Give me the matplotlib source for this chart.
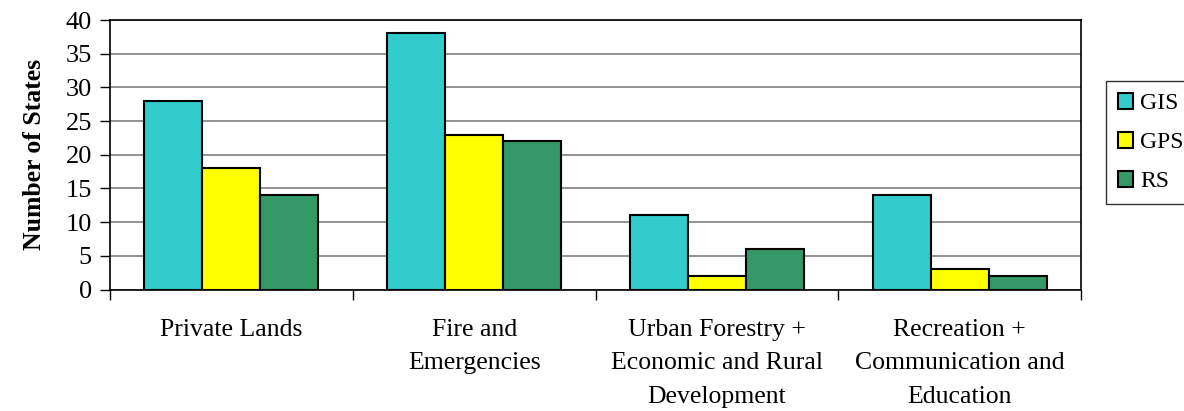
import numpy as np
import matplotlib
matplotlib.use("Agg")
import matplotlib.pyplot as plt
from matplotlib.ticker import FixedLocator

categories = ["Private Lands", "Fire and\nEmergencies",
              "Urban Forestry +\nEconomic and Rural\nDevelopment",
              "Recreation +\nCommunication and\nEducation"]
series_names = ["GIS", "GPS", "RS"]
gis = [28, 38, 11, 14]
gps = [18, 23, 2, 3]
rs = [14, 22, 6, 2]
y_ticks = [0, 5, 10, 15, 20, 25, 30, 35, 40]

colors = ["#33CCCC", "#FFFF00", "#339966"]
plt.rcParams["font.family"] = ["Liberation Serif", "DejaVu Serif"]

fig = plt.figure(figsize=(11.84, 4.11), dpi=100)
ax = fig.add_axes([110 / 1184, 1 - 289.5 / 411, (1081 - 110) / 1184, (289.5 - 20) / 411])

x = np.arange(len(categories))
width = 0.239
for i, (vals, name, c) in enumerate(zip([gis, gps, rs], series_names, colors)):
    ax.bar(x + (i - 1) * width, vals, width, color=c, edgecolor="black",
           linewidth=1.5, label=name, zorder=3)

ax.set_xlim(-0.5, len(categories) - 0.5)
ax.set_ylim(0, 40)
ax.set_yticks(y_ticks)
ax.yaxis.grid(True, color="#808080", linewidth=1.2, zorder=0)
ax.set_axisbelow(True)

ax.set_xticks(x)
ax.set_xticklabels(categories, fontsize=18.5, linespacing=1.68)
ax.xaxis.set_minor_locator(FixedLocator(np.arange(-0.5, len(categories), 1.0)))
ax.tick_params(axis="x", which="major", length=0, pad=21)
ax.tick_params(axis="x", which="minor", length=7, width=1, direction="out")
ax.tick_params(axis="y", labelsize=19, length=7, width=1, direction="out", pad=6)

for s in ax.spines.values():
    s.set_linewidth(1.2)
    s.set_color("black")

ax.set_ylabel("Number of States", fontsize=18.5, fontweight="bold", labelpad=14)

leg = fig.legend(loc="center left", bbox_to_anchor=(1106 / 1184, 1 - 142.5 / 411),
                 fontsize=17, frameon=True, fancybox=False, shadow=False,
                 handlelength=0.65, handleheight=0.65, handletextpad=0.3,
                 labelspacing=0.75, borderpad=0.5, borderaxespad=0)
leg.get_frame().set_edgecolor("black")
leg.get_frame().set_linewidth(1.0)

fig.savefig("out.png", dpi=100)
